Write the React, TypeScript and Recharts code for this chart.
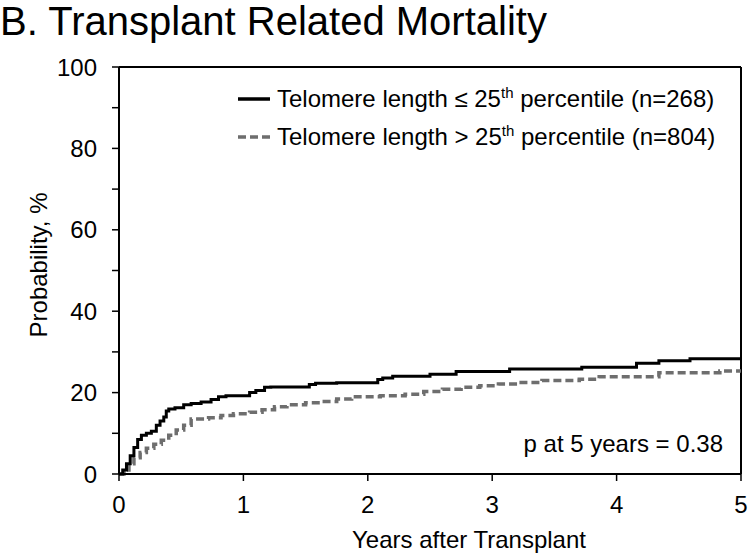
import React from "react"
import { LineChart, Line, XAxis, YAxis, ReferenceLine } from "recharts"

// Cumulative incidence (%), step points
const shortTimes = [0, 0.03, 0.06, 0.09, 0.12, 0.15, 0.18, 0.22, 0.26, 0.3, 0.33, 0.36, 0.38, 0.4, 0.45, 0.52, 0.58, 0.66, 0.74, 0.8, 0.86, 1.05, 1.1, 1.17, 1.22, 1.53, 1.58, 1.75, 2.08, 2.12, 2.2, 2.5, 2.71, 3.14, 3.72, 4.16, 4.34, 4.59, 5]
const shortValues = [0, 1, 2.5, 4.5, 6.5, 8.5, 9.5, 10, 10.5, 12, 13, 14, 15.5, 16, 16.3, 17, 17.3, 17.7, 18.3, 19, 19.2, 20, 20.5, 21.3, 21.4, 22, 22.3, 22.4, 23.2, 23.6, 24, 24.5, 25.2, 25.8, 26.2, 27.2, 27.8, 28.3, 28.3]

const longTimes = [0, 0.04, 0.08, 0.12, 0.17, 0.22, 0.28, 0.34, 0.4, 0.46, 0.52, 0.58, 0.72, 0.82, 0.92, 1.05, 1.15, 1.25, 1.35, 1.5, 1.62, 1.75, 1.87, 2.1, 2.3, 2.45, 2.6, 2.75, 2.9, 3.05, 3.2, 3.4, 3.7, 3.86, 4.34, 4.83, 5]
const longValues = [0, 1, 2.5, 4, 5.3, 6.3, 7.3, 8.3, 9.5, 10.8, 12, 13.5, 13.8, 14.4, 14.8, 15.2, 15.8, 16.5, 17, 17.5, 17.8, 18.4, 19, 19.2, 19.6, 20.3, 20.8, 21.3, 21.7, 22.1, 22.5, 23, 23.3, 23.9, 24.9, 25.3, 25.3]

const xTicks = [0, 1, 2, 3, 4, 5]
const yTicks = [0, 10, 20, 30, 40, 50, 60, 70, 80, 90, 100]

const shortData = shortTimes.map((t, i) => ({ t, v: shortValues[i] }))
const longData = longTimes.map((t, i) => ({ t, v: longValues[i] }))

const font = "'Liberation Sans', Arial, sans-serif"

const YTick = (props: any) => {
  const { x, y, payload } = props
  if (payload.value % 20 !== 0) return <g />
  return (
    <text x={x} y={y} textAnchor="end" dominantBaseline="central" fontSize={24} fontFamily={font} fill="#000">
      {payload.value}
    </text>
  )
}

const XTick = (props: any) => {
  const { x, y, payload } = props
  return (
    <text x={x} y={y} textAnchor="middle" dominantBaseline="hanging" fontSize={24} fontFamily={font} fill="#000">
      {payload.value}
    </text>
  )
}

// rotated y label, centred on the plot height
const YLabel = () => (
  <text
    transform="translate(38,265) rotate(-90)"
    textAnchor="middle"
    dominantBaseline="central"
    fontSize={24}
    fontFamily={font}
    fill="#000"
  >
    Probability, %
  </text>
)

export default function App() {
  return (
    <div style={{ position: "absolute", left: 0, top: 0, width: 750, height: 554, background: "#fff", fontFamily: font }}>
      <div style={{ position: "absolute", left: 0, top: 1, fontSize: 40, lineHeight: "40px", color: "#000", whiteSpace: "nowrap" }}>
        B. Transplant Related Mortality
      </div>

      <LineChart width={750} height={554} data={shortData} margin={{ top: 67, right: 9, left: 0, bottom: 0 }}>
        <XAxis
          dataKey="t"
          type="number"
          domain={[0, 5]}
          ticks={xTicks}
          height={80}
          tick={<XTick />}
          tickSize={7}
          tickMargin={14}
          axisLine={{ stroke: "#000", strokeWidth: 2 }}
          tickLine={{ stroke: "#000", strokeWidth: 1.5 }}
          label={{ value: "Years after Transplant", position: "insideBottom", offset: 6, dx: 39, fontSize: 24, fontFamily: font, fill: "#000" }}
        />
        <YAxis
          type="number"
          domain={[0, 100]}
          ticks={yTicks}
          width={119}
          tick={<YTick />}
          tickSize={7}
          tickMargin={15}
          interval={0}
          axisLine={{ stroke: "#000", strokeWidth: 2 }}
          tickLine={{ stroke: "#000", strokeWidth: 1.5 }}
          label={{ content: <YLabel /> }}
        />
        <ReferenceLine y={100} stroke="#000" strokeWidth={2} />
        <ReferenceLine x={5} stroke="#000" strokeWidth={2} />
        <Line
          data={longData}
          dataKey="v"
          type="stepAfter"
          stroke="#6e6e6e"
          strokeWidth={3.5}
          strokeDasharray="8 4"
          dot={false}
          isAnimationActive={false}
        />
        <Line
          data={shortData}
          dataKey="v"
          type="stepAfter"
          stroke="#000"
          strokeWidth={3}
          dot={false}
          isAnimationActive={false}
        />
      </LineChart>

      <div style={{ position: "absolute", left: 238, top: 80, fontSize: 24, lineHeight: "38px", color: "#000", whiteSpace: "nowrap" }}>
        <div style={{ display: "flex", alignItems: "center" }}>
          <svg width={32} height={6} style={{ marginRight: 7 }}>
            <line x1={0} y1={3} x2={32} y2={3} stroke="#000" strokeWidth={3.5} />
          </svg>
          <span>
            Telomere length ≤ 25<sup style={{ fontSize: 15, lineHeight: 0 }}>th</sup> percentile (n=268)
          </span>
        </div>
        <div style={{ display: "flex", alignItems: "center" }}>
          <svg width={32} height={6} style={{ marginRight: 7 }}>
            <line x1={0} y1={3} x2={32} y2={3} stroke="#6e6e6e" strokeWidth={3.5} strokeDasharray="8 4" />
          </svg>
          <span>
            Telomere length &gt; 25<sup style={{ fontSize: 15, lineHeight: 0 }}>th</sup> percentile (n=804)
          </span>
        </div>
      </div>

      <div style={{ position: "absolute", right: 27, top: 432, fontSize: 24, lineHeight: "24px", color: "#000", whiteSpace: "nowrap" }}>
        p at 5 years = 0.38
      </div>
    </div>
  )
}
